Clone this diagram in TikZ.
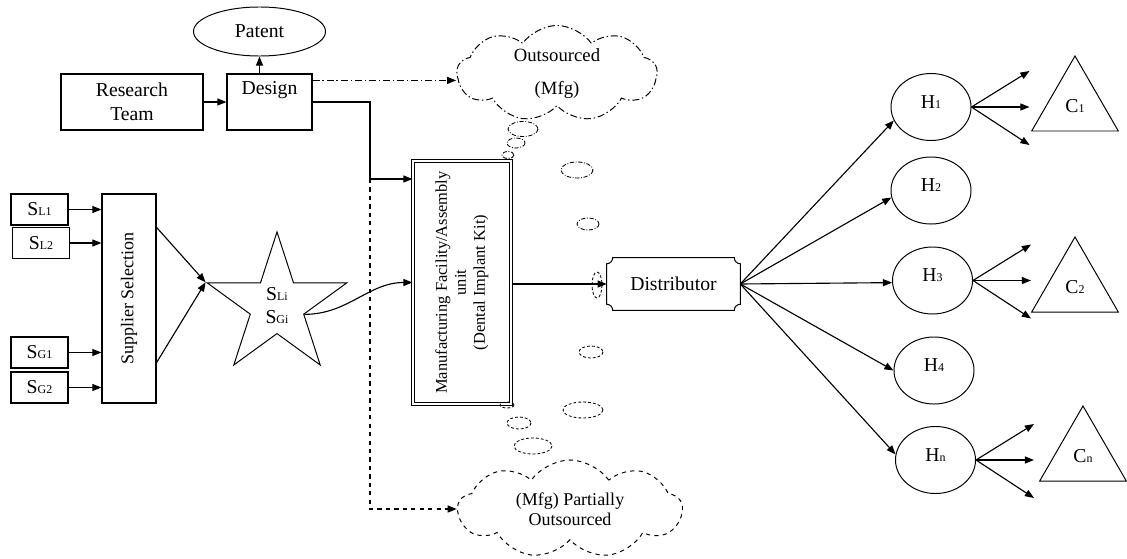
\documentclass[tikz,border=0pt]{standalone}
\usepackage{fontspec}
\setmainfont{Liberation Serif}
\usepackage{graphicx}
\usetikzlibrary{shapes.geometric,shapes.symbols,arrows.meta,calc}
\newcommand{\subidx}[1]{{\fontsize{8.5}{9}\selectfont #1}}

\begin{document}
\begin{tikzpicture}[x=0.025cm,y=-0.025cm,
  arr/.style={line width=0.8pt,-{Triangle[length=6.5pt,width=5pt]}},
  box/.style={draw,line width=0.8pt,inner sep=0pt,font=\fontsize{14}{17}\selectfont},
  sbox/.style={box,minimum width=1.425cm,minimum height=0.775cm},
  hub/.style={draw,ellipse,line width=0.7pt,minimum width=2cm,minimum height=1.675cm,inner sep=0pt,text depth=0.25cm,font=\fontsize{14}{17}\selectfont},
  client/.style={draw,regular polygon,regular polygon sides=3,minimum size=2.5cm,inner sep=0pt,line width=0.7pt,font=\fontsize{14}{17}\selectfont},
  dashdotline/.style={dash pattern=on 5pt off 2pt on 1pt off 2pt},
  bubble/.style={line width=0.6pt,dash pattern=on 2pt off 1.5pt}]
\useasboundingbox (0,0) rectangle (1127,559);

\node[draw,ellipse,line width=0.7pt,minimum width=3.3cm,minimum height=1.225cm,inner sep=0pt,font=\fontsize{14}{17}\selectfont] (patent) at (259.5,31.5) {Patent};
\node[box,minimum width=3.55cm,minimum height=1.4cm,align=center] (research) at (132,102) {Research\\Team};
\node[box,minimum width=2.125cm,minimum height=1.4cm,text height=0.35cm,text depth=0.7cm] (design) at (269.5,102) {Design};

\node[cloud,draw,dashdotline,line width=0.7pt,cloud puffs=9,cloud puff arc=110,cloud ignores aspect,minimum width=5cm,minimum height=2.4cm,inner sep=0pt,align=center,font=\fontsize{13.3}{16}\selectfont] (outsrc) at (557,73.5) {Outsourced\\[0.27cm](Mfg)};
\node[cloud,draw,dashed,line width=0.7pt,cloud puffs=9,cloud puff arc=110,cloud ignores aspect,minimum width=5.6cm,minimum height=2.45cm,inner sep=0pt,align=center,font=\fontsize{12.8}{14.5}\selectfont] (partial) at (570,509) {(Mfg) Partially\\Outsourced};

\node[sbox] (sl1) at (39.5,209.5) {S\subidx{L1}};
\node[sbox] (sl2) at (41,243) {S\subidx{L2}};
\node[sbox] (sg1) at (39.5,352.5) {S\subidx{G1}};
\node[sbox] (sg2) at (39.5,387.5) {S\subidx{G2}};
\node[box,minimum width=1.35cm,minimum height=5.225cm,font=\fontsize{12.8}{15}\selectfont] (supsel) at (129,298.5) {\rotatebox{90}{Supplier Selection}};

\node[draw,star,star points=5,star point ratio=2.618,minimum size=3.675cm,inner sep=0pt,line width=0.7pt,align=center,font=\fontsize{14}{16}\selectfont] (star) at (277,305.5) {S\subidx{Li}\\S\subidx{Gi}};

\node[box,double,double distance=1.4pt,line width=0.7pt,minimum width=2.45cm,minimum height=6.075cm,font=\fontsize{11.7}{13.5}\selectfont] (mfg) at (462,282.5) {\rotatebox{90}{\begin{tabular}{@{}c@{}}Manufacturing Facility/Assembly\\unit\\(Dental Implant Kit)\end{tabular}}};

\node[minimum width=3.325cm,minimum height=1.3cm,inner sep=0pt,font=\fontsize{14}{17}\selectfont] (dist) at (673.5,284) {Distributor};
\draw[line width=0.7pt] ([xshift=0.15cm]dist.north west) -- ([xshift=-0.15cm]dist.north east) arc (180:270:0.15cm) -- ([yshift=0.15cm]dist.south east) arc (90:180:0.15cm) -- ([xshift=0.15cm]dist.south west) arc (0:90:0.15cm) -- ([yshift=-0.15cm]dist.north west) arc (270:360:0.15cm) -- cycle;

\node[hub] (h1) at (931,107) {H\subidx{1}};
\node[hub] (h2) at (931,190.5) {H\subidx{2}};
\node[hub] (h3) at (932.5,280.5) {H\subidx{3}};
\node[hub] (h4) at (934,370.5) {H\subidx{4}};
\node[hub] (hn) at (935.5,460) {H\subidx{n}};

\node[client] (c1) at (1075,106) {C\subidx{1}};
\node[client] (c2) at (1075,287) {C\subidx{2}};
\node[client] (cn) at (1083,456) {C\subidx{n}};

\foreach \px/\py/\rx/\ry in {523/129/15/7.5,516/143/9/5,508/155/6/3.5,577/170/16/8,588/224/11/6}
  \draw[line width=0.6pt,dash pattern=on 3pt off 1.2pt on 0.6pt off 1.2pt] (\px,\py) ellipse [x radius=\rx,y radius=\ry];
\foreach \px/\py/\rx/\ry in {597/285/5/13,591/352/12/6,583/410/20/8,507/405/7/3,519/423/12/6,533/446/19/8}
  \draw[bubble] (\px,\py) ellipse [x radius=\rx,y radius=\ry];

\draw[arr] (research) -- (design);
\draw[arr] (design.north -| patent.south) -- (patent.south);
\coordinate (dd) at ($(design.north east)+(0,7)$);
\draw[arr,dashdotline] (dd) -- (dd -| outsrc.west);
\coordinate (split) at (370,179);
\draw[arr] (design.east) -| (split) -- (split -| mfg.west);
\draw[arr,dashed] (split) |- (partial.west);

\foreach \s in {sl1,sl2,sg1,sg2}
  \draw[arr] (\s.east) -- (\s.east -| supsel.west);
\draw[arr] ($(supsel.north east)+(0,34)$) -- (star.outer point 2);
\draw[arr] ($(supsel.south east)+(0,-41)$) -- (star.outer point 2);
\draw[arr] (star.inner point 4) to[out=0,in=180] (mfg.west);
\draw[arr] (mfg.east |- dist.west) -- (dist.west);

\foreach \h/\a in {h1/200,h2/190,h3/183,h4/180,hn/172}
  \draw[arr] (dist.east) -- (\h.\a);
\foreach \h in {h1,h3,hn}
  \foreach \dy in {-36,0,38}
    \draw[arr] (\h.east) -- ++(58,\dy);
\end{tikzpicture}
\end{document}
